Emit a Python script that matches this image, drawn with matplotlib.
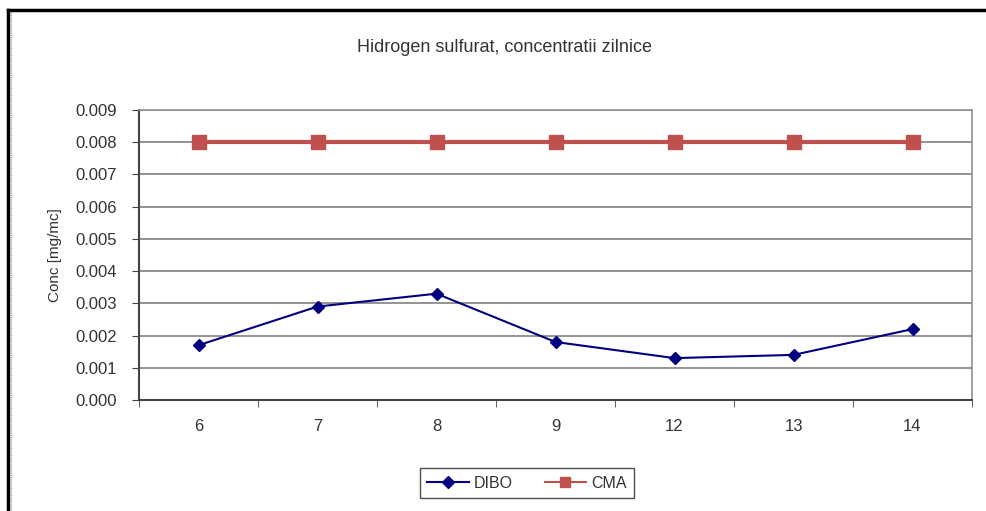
import matplotlib
matplotlib.use("Agg")
import matplotlib.pyplot as plt
from matplotlib.lines import Line2D

plt.rcParams['font.family'] = ['Liberation Sans', 'DejaVu Sans']

categories = ["6", "7", "8", "9", "12", "13", "14"]
dibo = [0.0017, 0.0029, 0.0033, 0.0018, 0.0013, 0.0014, 0.0022]
cma = [0.008, 0.008, 0.008, 0.008, 0.008, 0.008, 0.008]
yticks = [0.000, 0.001, 0.002, 0.003, 0.004, 0.005, 0.006, 0.007, 0.008, 0.009]

W, H = 986, 511
fig = plt.figure(figsize=(W / 100, H / 100), dpi=100)
ax = fig.add_axes([139 / W, 1 - 400 / H, (972 - 139) / W, (400 - 110) / H])

x = list(range(len(categories)))
ax.plot(x, cma, color='#C0504D', lw=3, marker='s', markersize=10,
        markeredgecolor='#C0504D', label='CMA', zorder=3)
ax.plot(x, dibo, color='#000080', lw=1.5, marker='D', markersize=6,
        label='DIBO', zorder=4)

ax.set_xlim(-0.5, len(categories) - 0.5)
ax.set_ylim(0, 0.009)
ax.set_yticks(yticks)
ax.set_yticklabels([f"{v:.3f}" for v in yticks], fontsize=12, color='#333333')
ax.set_xticks(x)
ax.set_xticklabels(categories, fontsize=12, color='#333333')
ax.tick_params(axis='x', length=0, pad=14)
ax.set_xticks([i - 0.5 for i in range(len(categories) + 1)], minor=True)
ax.tick_params(axis='x', which='minor', length=5, direction='out', color='#444444')
ax.tick_params(axis='y', length=5, direction='out', color='#444444', pad=11)

ax.yaxis.grid(True, color='#808080', lw=1.2)
ax.set_axisbelow(True)
for s in ['left', 'bottom']:
    ax.spines[s].set_color('#444444')
    ax.spines[s].set_linewidth(1.5)
for s in ['top', 'right']:
    ax.spines[s].set_color('#909090')
    ax.spines[s].set_linewidth(1.2)

fig.text(55 / W, 1 - 255 / H, "Conc [mg/mc]", rotation=90, fontsize=11,
         color='#333333', ha='center', va='center')

fig.text(504 / W, 1 - 47 / H, "Hidrogen sulfurat, concentratii zilnice",
         fontsize=13, color='#333333', ha='center', va='center')

handles = [Line2D([], [], color='#000080', lw=1.5, marker='D', markersize=6),
           Line2D([], [], color='#C0504D', lw=1.5, marker='s', markersize=7)]
leg = fig.legend(handles, ['DIBO', 'CMA'], loc='center',
                 bbox_to_anchor=(527 / W, 1 - 483 / H), ncol=2, frameon=True,
                 fancybox=False, edgecolor='#222222', fontsize=11.5,
                 handlelength=2.6, columnspacing=2.0, borderpad=0.45,
                 handletextpad=0.3)
leg.get_frame().set_linewidth(1.0)
for t in leg.get_texts():
    t.set_color('#333333')

# outer frame
fig.add_artist(Line2D([8 / W, 8 / W], [0, 1 - 10 / H], color='black', lw=2.5,
                      transform=fig.transFigure))
fig.add_artist(Line2D([8 / W, 1], [1 - 10 / H, 1 - 10 / H], color='black', lw=2.5,
                      transform=fig.transFigure))
fig.add_artist(Line2D([11 / W, 11 / W], [0, 1 - 12 / H], color='#999999', lw=0.8,
                      ls=(0, (1, 1)), transform=fig.transFigure))

fig.savefig("out.png", dpi=100)
